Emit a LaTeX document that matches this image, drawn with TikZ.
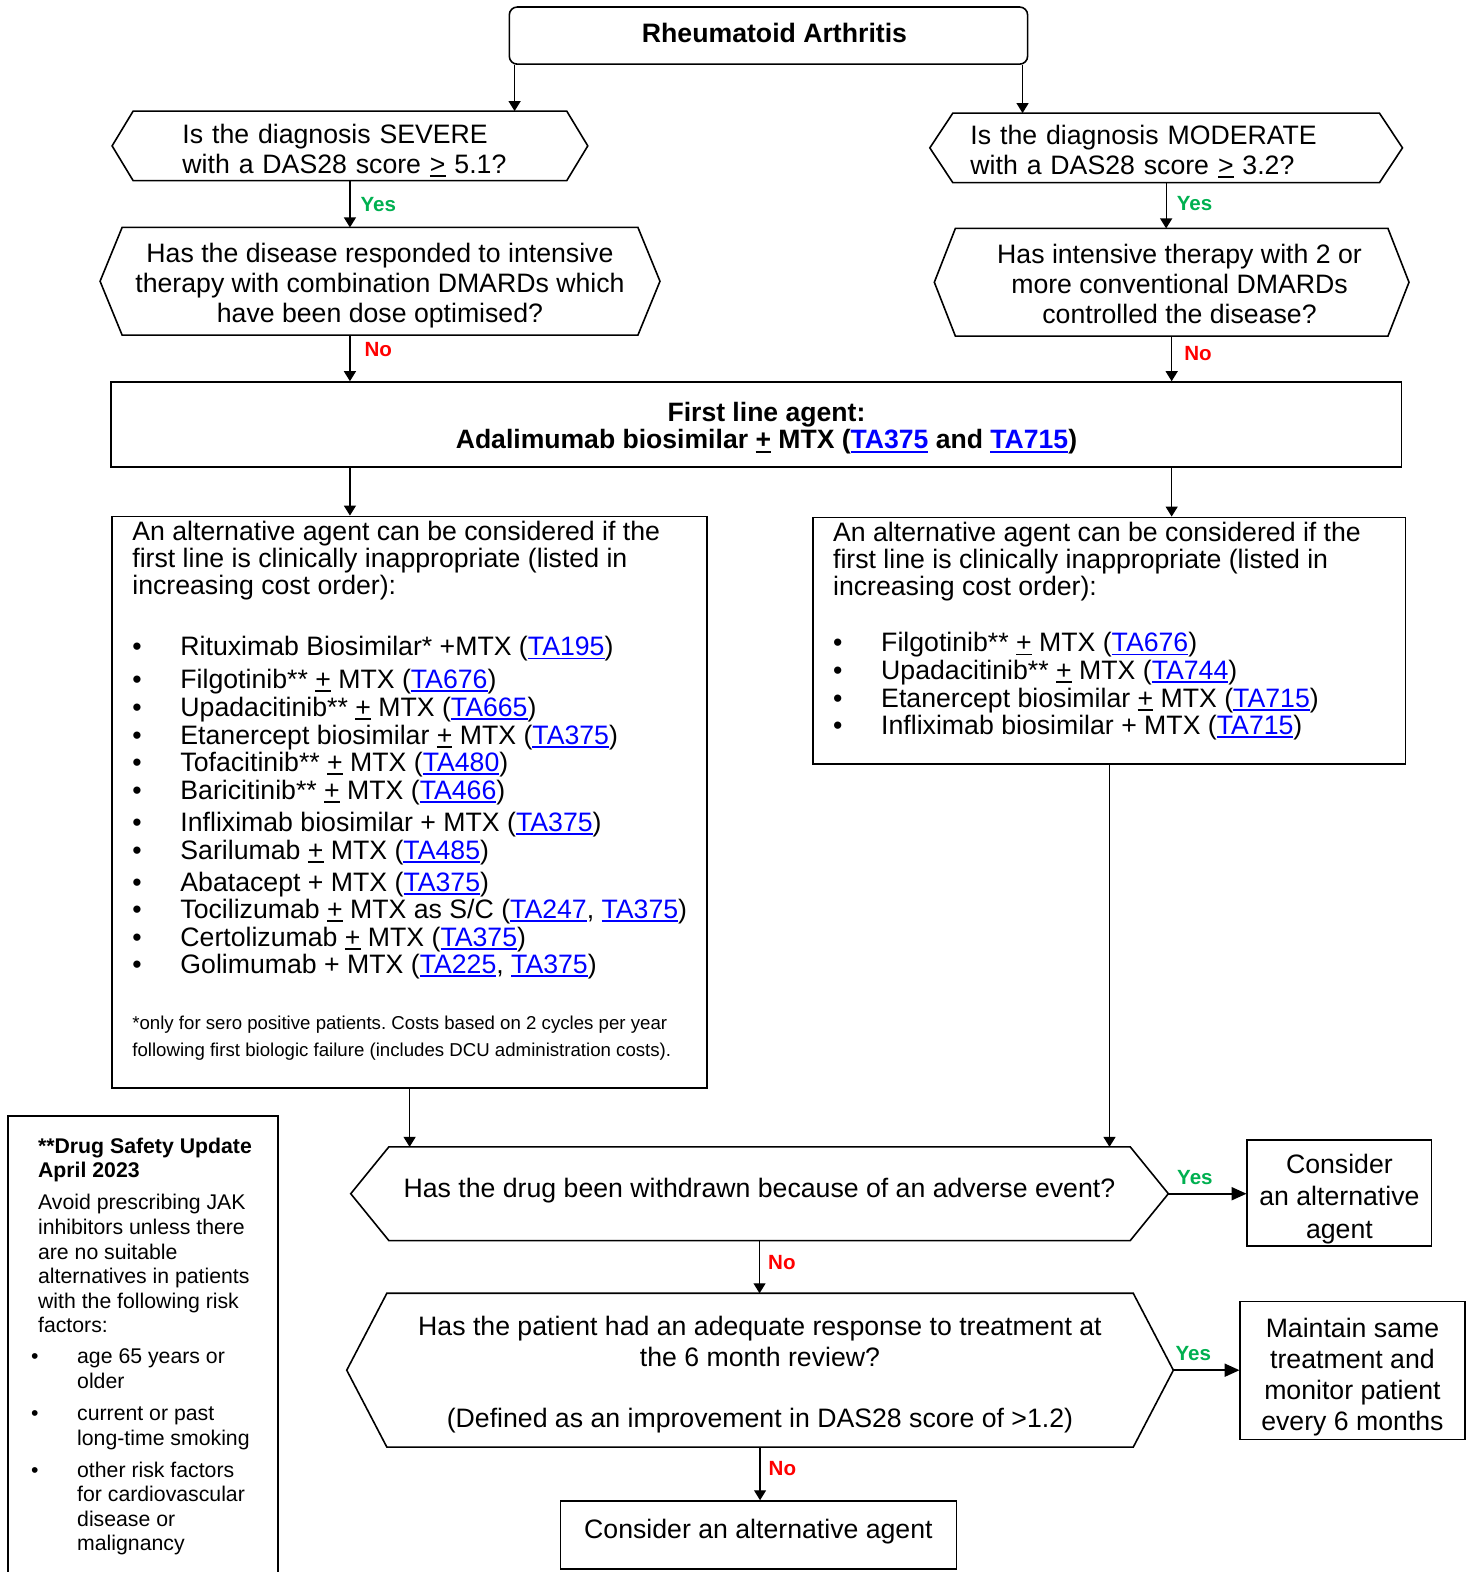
\documentclass[tikz,border=0pt]{standalone}
\usepackage{fontspec}
\setmainfont{Liberation Sans}
\usetikzlibrary{arrows.meta}
\frenchspacing

\definecolor{yesgreen}{RGB}{0,176,80}
\definecolor{nored}{RGB}{255,0,0}
\definecolor{linkblue}{RGB}{0,0,255}

\newcommand{\bodyfont}{\fontsize{26.6pt}{30pt}\selectfont}
\newcommand{\lblfont}{\bfseries\fontsize{20.5pt}{22pt}\selectfont}
\newcommand{\undl}[1]{\setbox0=\hbox{#1}\rlap{\rule[-3.5pt]{\wd0}{1.8pt}}\box0\relax}
\newcommand{\ta}[1]{\textcolor{linkblue}{\undl{TA#1}}}
\newcommand{\pmx}{\undl{+}}
\newcommand{\bul}{\makebox[48pt][l]{\textbullet}}
\newcommand{\dbul}{\hspace*{-7pt}\makebox[46pt][l]{\textbullet}}
% lower one line of text inside its node
\newcommand{\sh}[2]{\raisebox{-#1}[\height][\depth]{#2}}
% hexagon round a named node: #1 node, #2 tip depth
\newcommand{\hexa}[2]{\draw[line width=1.6pt] ([xshift=#2]#1.north west) -- (#1.west) -- ([xshift=#2]#1.south west) -- ([xshift=-#2]#1.south east) -- (#1.east) -- ([xshift=-#2]#1.north east) -- cycle;}

\tikzset{
  box/.style={draw, line width=1.6pt, inner sep=0pt, font=\bodyfont},
  decision/.style={inner sep=0pt, font=\bodyfont},
  arr/.style={line width=1.3pt, -{Triangle[length=10pt,width=12pt]}},
  arrbold/.style={line width=2pt, -{Triangle[length=15pt,width=13pt]}},
  yes/.style={text=yesgreen, font=\lblfont, inner sep=0pt},
  no/.style={text=nored, font=\lblfont, inner sep=0pt},
}

\begin{document}
\begin{tikzpicture}[x=1pt, y=-1pt, scale=1.00272, transform shape]
  \useasboundingbox (0,0) rectangle (1468,1568);

  % start
  \node[box, rounded corners=8pt, minimum width=517pt, minimum height=57pt, text depth=5pt, font=\bfseries\bodyfont] (ra) at (766.5,35.5) {\hspace*{12pt}Rheumatoid Arthritis};

  % severe / moderate branches
  \node[decision, text width=334pt, align=left, minimum width=474pt, minimum height=69pt] (sev) at (349,145.5) {\sh{4.5pt}{Is the diagnosis SEVERE}\\\sh{4.5pt}{with a DAS28 score \undl{>} 5.1?}};
  \node[decision, text width=390pt, align=left, minimum width=471pt, minimum height=69pt] (mod) at (1163,147.5) {\sh{3.5pt}{Is the diagnosis MODERATE}\\\sh{3.5pt}{with a DAS28 score \undl{>} 3.2?}};
  \node[decision, align=center, minimum width=558pt, minimum height=107pt] (dis) at (379,280.5) {\sh{4.5pt}{Has the disease responded to intensive}\\\sh{4.5pt}{therapy with combination DMARDs which}\\\sh{4.5pt}{have been dose optimised?}};
  \node[decision, align=center, minimum width=473pt, minimum height=107pt] (ctl) at (1168.5,281.5) {\sh{1.5pt}{\hspace*{16pt}Has intensive therapy with 2 or}\\\sh{1.5pt}{\hspace*{16pt}more conventional DMARDs}\\\sh{1.5pt}{\hspace*{16pt}controlled the disease?}};
  \hexa{sev}{21pt}
  \hexa{mod}{23pt}
  \hexa{dis}{22pt}
  \hexa{ctl}{21pt}

  % first line agent
  \node[box, align=center, minimum width=1287pt, minimum height=85pt, font=\bfseries\fontsize{26.5pt}{27pt}\selectfont] (first) at (754.5,423.5) {\sh{4pt}{\hspace*{20pt}First line agent:}\\\sh{4pt}{\hspace*{20pt}Adalimumab biosimilar \pmx{} MTX (\ta{375} and \ta{715})}};

  % alternatives
  \node[box] (altL) at (408.5,800) {\parbox[c][570pt][t]{593pt}{\raggedright\leftskip=20pt\fontsize{26.6pt}{27pt}\selectfont
    \vspace*{5pt}An alternative agent can be considered if the\\
    first line is clinically inappropriate (listed in\\
    increasing cost order):\\[34pt]
    \bul Rituximab Biosimilar* +MTX (\ta{195})\\[5pt]
    \bul Filgotinib** \pmx{} MTX (\ta{676})\\[1pt]
    \bul Upadacitinib** \pmx{} MTX (\ta{665})\\[1pt]
    \bul Etanercept biosimilar \pmx{} MTX (\ta{375})\\
    \bul Tofacitinib** \pmx{} MTX (\ta{480})\\[1pt]
    \bul Baricitinib** \pmx{} MTX (\ta{466})\\[5pt]
    \bul Infliximab biosimilar + MTX (\ta{375})\\[1pt]
    \bul Sarilumab \pmx{} MTX (\ta{485})\\[5pt]
    \bul Abatacept + MTX (\ta{375})\\
    \bul Tocilizumab \pmx{} MTX as S/C (\ta{247}, \ta{375})\\[1pt]
    \bul Certolizumab \pmx{} MTX (\ta{375})\\
    \bul Golimumab + MTX (\ta{225}, \ta{375})\\[29pt]
    {\fontsize{18.6pt}{27pt}\selectfont *only for sero positive patients. Costs based on 2 cycles per year\\
    following first biologic failure (includes DCU administration costs).}\par}};
  \node[box] (altR) at (1106.5,639) {\parbox[c][246pt][t]{591pt}{\raggedright\leftskip=20pt\fontsize{26.6pt}{27pt}\selectfont
    \vspace*{5pt}An alternative agent can be considered if the\\
    first line is clinically inappropriate (listed in\\
    increasing cost order):\\[29pt]
    \bul Filgotinib** \pmx{} MTX (\ta{676})\\
    \bul Upadacitinib** \pmx{} MTX (\ta{744})\\[1pt]
    \bul Etanercept biosimilar \pmx{} MTX (\ta{715})\\
    \bul Infliximab biosimilar + MTX (\ta{715})\par}};

  % drug safety note, open at the bottom
  \node[inner sep=0pt] (dsu) at (142.5,1342.5) {\parbox[c][459pt][t]{269pt}{\raggedright\leftskip=30pt\fontsize{21.2pt}{24.5pt}\selectfont
    \vspace*{22pt}\textbf{**Drug Safety Update}\\
    \textbf{April 2023}\\[7.5pt]
    Avoid prescribing JAK\\
    inhibitors unless there\\
    are no suitable\\
    alternatives in patients\\
    with the following risk\\
    factors:\\[6.5pt]
    \dbul age 65 years or\\
    \hspace*{39pt}older\\[7.5pt]
    \dbul current or past\\
    \hspace*{39pt}long-time smoking\\[7.5pt]
    \dbul other risk factors\\
    \hspace*{39pt}for cardiovascular\\
    \hspace*{39pt}disease or\\
    \hspace*{39pt}malignancy\par}};
  \draw[line width=1.6pt] (dsu.south west) -- (dsu.north west) -- (dsu.north east) -- (dsu.south east);

  % review
  \node[decision, text depth=12pt, minimum width=815pt, minimum height=93pt] (wd) at (757.5,1190.5) {Has the drug been withdrawn because of an adverse event?};
  \node[box, align=center, minimum width=184pt, minimum height=106pt, font=\fontsize{26.6pt}{32pt}\selectfont] (cons) at (1336,1190) {\sh{6pt}{Consider}\\\sh{6pt}{an alternative}\\\sh{6pt}{agent}};
  \node[decision, align=center, minimum width=824pt, minimum height=153pt, font=\fontsize{26.6pt}{30.5pt}\selectfont] (resp) at (758,1366.5) {\sh{4.5pt}{Has the patient had an adequate response to treatment at}\\\sh{4.5pt}{the 6 month review?}\\[30.5pt]\sh{4.5pt}{(Defined as an improvement in DAS28 score of >1.2)}};
  \node[box, align=center, minimum width=224pt, minimum height=138pt, font=\fontsize{26.6pt}{30.7pt}\selectfont] (maint) at (1349,1367) {\sh{6.5pt}{Maintain same}\\\sh{6.5pt}{treatment and}\\\sh{6.5pt}{monitor patient}\\\sh{6.5pt}{every 6 months}};
  \node[box, text depth=13pt, minimum width=395pt, minimum height=68pt] (final) at (756.5,1531) {Consider an alternative agent};
  \hexa{wd}{38pt}
  \hexa{resp}{40pt}

  % connectors
  \draw[arr] ([xshift=6pt]ra.south west) -- ([xshift=6pt]ra.south west |- sev.north);
  \draw[arr] ([xshift=-6pt]ra.south east) -- ([xshift=-6pt]ra.south east |- mod.north);
  \draw[arr] (sev.south) -- (sev.south |- dis.north) node[yes, pos=0.5, anchor=west, xshift=10pt] {Yes};
  \draw[arr] (mod.south) -- (mod.south |- ctl.north) node[yes, pos=0.46, anchor=west, xshift=10pt] {Yes};
  \draw[arr] (sev.south |- dis.south) -- (sev.south |- first.north) node[no, pos=0.32, anchor=west, xshift=14pt] {No};
  \draw[arr] (ctl.south) -- (ctl.south |- first.north) node[no, pos=0.39, anchor=west, xshift=12pt] {No};
  \draw[arr] (sev.south |- first.south) -- (sev.south |- altL.north);
  \draw[arr] (ctl.south |- first.south) -- (ctl.south |- altR.north);
  \draw[arr] (altL.south) -- (altL.south |- wd.north);
  \draw[arr] (altR.south) -- (altR.south |- wd.north);
  \draw[arrbold] (wd.east) -- (wd.east -| cons.west) node[yes, pos=0.34, anchor=south, yshift=8pt] {Yes};
  \draw[arr] (wd.south) -- (wd.south |- resp.north) node[no, pos=0.42, anchor=west, xshift=8pt] {No};
  \draw[arrbold] (resp.east) -- (resp.east -| maint.west) node[yes, pos=0.3, anchor=south, yshift=8pt] {Yes};
  \draw[arr] (resp.south) -- (resp.south |- final.north) node[no, pos=0.41, anchor=west, xshift=8pt] {No};
\end{tikzpicture}
\end{document}
